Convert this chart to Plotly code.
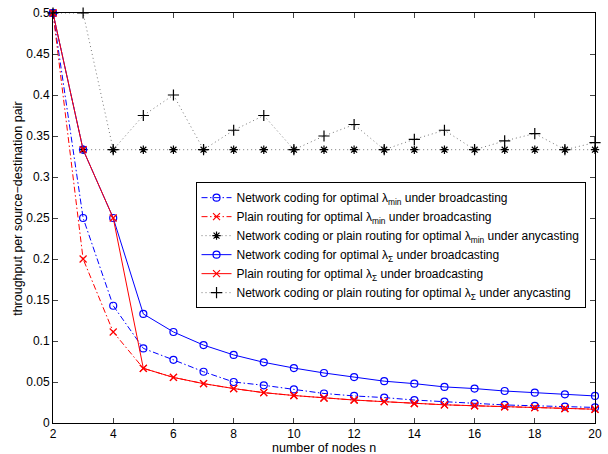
import plotly.graph_objects as go

n_nodes = list(range(2, 21))

nc_min_bc = [0.5, 0.25, 0.143, 0.091, 0.077, 0.0625, 0.05, 0.046, 0.041, 0.036,
             0.033, 0.031, 0.028, 0.026, 0.024, 0.022, 0.021, 0.020, 0.019]
pr_min_bc = [0.5, 0.2, 0.111, 0.0667, 0.0556, 0.048, 0.042, 0.037, 0.0335, 0.0305,
             0.028, 0.026, 0.0238, 0.0222, 0.021, 0.0198, 0.0187, 0.0177, 0.0168]
any_min = [0.5, 0.3333, 0.3333, 0.3333, 0.3333, 0.3333, 0.3333, 0.3333, 0.3333, 0.3333,
           0.3333, 0.3333, 0.3333, 0.3333, 0.3333, 0.3333, 0.3333, 0.3333, 0.3333]
nc_sum_bc = [0.5, 0.3333, 0.25, 0.133, 0.111, 0.095, 0.083, 0.074, 0.067, 0.061,
             0.056, 0.051, 0.048, 0.044, 0.042, 0.039, 0.037, 0.035, 0.033]
pr_sum_bc = [0.5, 0.3333, 0.25, 0.0667, 0.0556, 0.048, 0.042, 0.037, 0.0335, 0.0305,
             0.028, 0.026, 0.0238, 0.0222, 0.021, 0.0198, 0.0187, 0.0177, 0.0168]
any_sum = [0.5, 0.5, 0.3333, 0.375, 0.4, 0.3333, 0.357, 0.375, 0.3333, 0.35,
           0.364, 0.3333, 0.346, 0.357, 0.3333, 0.344, 0.353, 0.3333, 0.342]

x_ticks = [2, 4, 6, 8, 10, 12, 14, 16, 18, 20]
y_ticks = [0, 0.05, 0.1, 0.15, 0.2, 0.25, 0.3, 0.35, 0.4, 0.45, 0.5]
y_tick_text = ["0", "0.05", "0.1", "0.15", "0.2", "0.25", "0.3", "0.35", "0.4", "0.45", "0.5"]

names = [
    "Network coding for optimal λ<sub>min</sub> under broadcasting",
    "Plain routing for optimal λ<sub>min</sub> under broadcasting",
    "Network coding or plain routing for optimal λ<sub>min</sub> under anycasting",
    "Network coding for optimal λ<sub>Σ</sub> under broadcasting",
    "Plain routing for optimal λ<sub>Σ</sub> under broadcasting",
    "Network coding or plain routing for optimal λ<sub>Σ</sub> under anycasting",
]

BLUE = "#0000ff"
RED = "#ff0000"
DASHDOT = "6px,2.5px,1.5px,2.5px"
DOT = "1px,3px"

styles = [
    (nc_min_bc, BLUE, DASHDOT, "circle-open", 7, "#0000ff"),
    (pr_min_bc, RED, DASHDOT, "x-thin-open", 7, "#ff0000"),
    (any_min, "#777777", DOT, "asterisk-open", 7, "#000000"),
    (nc_sum_bc, BLUE, "solid", "circle-open", 7, "#0000ff"),
    (pr_sum_bc, RED, "solid", "x-thin-open", 7, "#ff0000"),
    (any_sum, "#777777", DOT, "cross-thin-open", 8, "#000000"),
]

fig = go.Figure()
for (vals, lc, dash, sym, ms, mc), nm in zip(styles, names):
    fig.add_trace(go.Scatter(
        x=n_nodes, y=vals, name=nm, mode="lines+markers",
        line=dict(color=lc, width=1, dash=dash),
        marker=dict(symbol=sym, size=ms, color=mc, line=dict(color=mc, width=1.2)),
        cliponaxis=False,
    ))

L, R, T, B = 52.5, 6, 9, 30.5
W, H = 608, 454
PH = H - B - T
fig.update_layout(
    width=W, height=H,
    margin=dict(l=L, r=R, t=T, b=B, pad=0),
    paper_bgcolor="white", plot_bgcolor="white",
    font=dict(family="Liberation Sans, Arial, sans-serif", size=12, color="black"),
    showlegend=True,
    legend=dict(
        x=(197 - L) / (W - L - R), y=(H - B - 180) / PH,
        xanchor="left", yanchor="top",
        bgcolor="white", bordercolor="black", borderwidth=1,
        font=dict(size=12, family="Liberation Sans, Arial, sans-serif"),
        itemwidth=30, tracegroupgap=0,
    ),
    xaxis=dict(
        range=[2, 20], tickvals=x_ticks, ticks="inside", ticklen=5,
        showline=True, linecolor="black", linewidth=1, mirror="ticks",
        showgrid=False, zeroline=False, tickfont=dict(size=12),
    ),
    yaxis=dict(
        range=[0, 0.5], tickvals=y_ticks, ticktext=y_tick_text, ticks="inside", ticklen=5,
        showline=True, linecolor="black", linewidth=1, mirror="ticks",
        showgrid=False, zeroline=False, tickfont=dict(size=12),
    ),
    annotations=[
        dict(text="number of nodes n", xref="paper", yref="paper",
             x=0.5, y=-(449 - (H - B)) / PH, xanchor="center", yanchor="middle",
             showarrow=False, font=dict(size=12.5)),
        dict(text="throughput per source\u2212destination pair", xref="paper", yref="paper",
             x=-(L - 17) / (W - L - R), y=(H - B - 207) / PH, xanchor="center", yanchor="middle",
             textangle=-90, showarrow=False, font=dict(size=12.5)),
    ],
)

fig.write_html("out.html")
